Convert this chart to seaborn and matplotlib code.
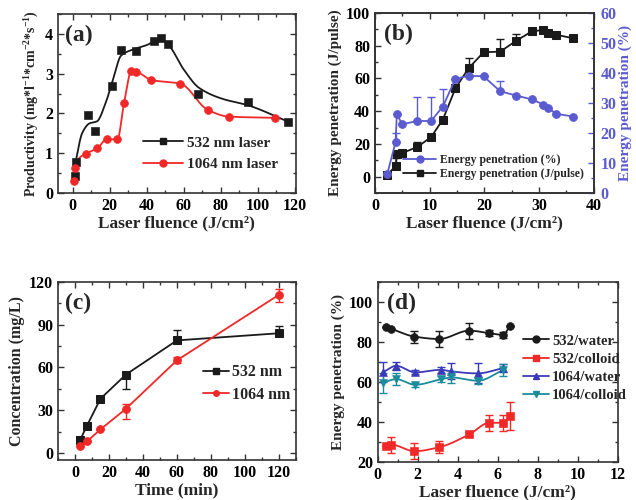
import numpy as np
import pandas as pd
import matplotlib
matplotlib.use("Agg")
import matplotlib.pyplot as plt
from matplotlib.lines import Line2D
from matplotlib.ticker import MultipleLocator
import seaborn as sns

# ---- (a) productivity vs laser fluence ----
a532_x = [1.0, 1.5, 8.3, 12.0, 21.4, 26.2, 34.4, 44.0, 47.6, 51.2, 67.7, 94.7, 116.0]
a532_y = [0.42, 0.78, 1.95, 1.56, 2.7, 3.6, 3.56, 3.81, 3.9, 3.75, 2.48, 2.3, 1.79]
# smooth fit line drawn through the 532 nm data
fit532_x = [1.5, 5, 9, 13, 18, 22, 26, 32, 40, 47, 52, 60, 68, 80, 95, 116]
fit532_y = [0.78, 1.5, 1.75, 1.8, 2.3, 2.9, 3.45, 3.6, 3.72, 3.87, 3.7, 3.1, 2.65, 2.38, 2.2, 1.8]
a1064_x = [0.8, 1.0, 7.2, 13.2, 18.3, 24.1, 27.7, 31.7, 34.4, 42.5, 58.1, 72.9, 84.3, 109.1]
a1064_y = [0.3, 0.62, 0.99, 1.12, 1.35, 1.35, 2.27, 3.07, 3.05, 2.84, 2.75, 2.09, 1.92, 1.89]

# ---- (b) energy penetration vs fluence ----
b_x = [2.25, 3.76, 4.0, 5.0, 7.7, 10.26, 12.4, 14.7, 17.1, 19.85, 22.9, 25.8,
       28.65, 30.8, 31.6, 33.1, 36.2]
b_jp = [1.2, 6.4, 13.9, 14.5, 18.0, 24.2, 34.8, 53.9, 66.2, 76.0, 76.4, 83.0,
        88.7, 89.7, 87.7, 86.7, 84.6]
b_jp_err = [0, 5, 0, 0, 3, 0, 0, 0, 6, 0, 8, 4, 0, 0, 0, 0, 0]
b_pct = [6.4, 16.9, 26.2, 22.9, 24.0, 24.0, 28.8, 38.0, 39.1, 38.9, 33.9, 32.5,
         31.2, 29.5, 28.4, 26.4, 25.5]
b_pct_err = [0, 3, 0, 0, 8, 8, 6, 0, 0, 0, 3.5, 0, 0, 0, 0, 0, 0]

# ---- (c) concentration vs time ----
c_t = [3, 7, 15, 30, 60, 120]
c532 = [9, 19, 38, 55, 79, 84]
c532_lo = [0, 0, 0, 10, 0, 0]
c532_hi = [0, 0, 0, 1, 7, 5]
c1064 = [5, 8, 16.5, 31, 65, 111]
c1064_lo = [0, 0, 0, 7, 2, 5]
c1064_hi = [0, 0, 0, 3, 2, 4]

# ---- (d) energy penetration, water vs colloid ----
d532_x = [0.42, 0.67, 1.83, 3.08, 4.58, 5.58, 6.25, 6.62]
d532w = [87.4, 86.6, 82.7, 81.5, 85.7, 84.4, 83.6, 87.9]
d532w_err = [0, 0, 3, 4, 4, 1.5, 1.5, 0]
d532c = [28.2, 28.7, 25.4, 27.4, 33.8, 39.6, 39.6, 43.0]
d532c_err = [0, 4, 4, 3, 1, 4, 4, 7]
d1064_x = [0.25, 0.92, 1.87, 3.17, 3.67, 5.0, 6.28]
d1064w = [64.8, 68.1, 64.8, 66.1, 65.3, 64.3, 67.0]
d1064w_err = [5, 2, 1, 1.5, 4, 5, 2]
d1064c = [59.7, 61.4, 58.6, 61.4, 62.3, 60.6, 66.0]
d1064c_err = [5, 3, 1, 1.5, 3, 1.5, 3]

BLACK = "#1a1a1a"
RED = "#f02828"
BLUE_B = "#5b5bd0"
BLUE_D = "#3a3ab8"
TEAL = "#1b8c9c"


def pchip(x, y, n=300):
    x = np.asarray(x, float)
    y = np.asarray(y, float)
    h = np.diff(x)
    d = np.diff(y) / h
    m = np.zeros_like(y)
    for i in range(1, len(x) - 1):
        if d[i - 1] * d[i] > 0:
            w1 = 2 * h[i] + h[i - 1]
            w2 = h[i] + 2 * h[i - 1]
            m[i] = (w1 + w2) / (w1 / d[i - 1] + w2 / d[i])
    m[0], m[-1] = d[0], d[-1]
    xs = np.linspace(x[0], x[-1], n)
    k = np.clip(np.searchsorted(x, xs) - 1, 0, len(h) - 1)
    t = (xs - x[k]) / h[k]
    ys = ((2 * t**3 - 3 * t**2 + 1) * y[k] + (t**3 - 2 * t**2 + t) * h[k] * m[k]
          + (-2 * t**3 + 3 * t**2) * y[k + 1] + (t**3 - t**2) * h[k] * m[k + 1])
    return xs, ys


def style_axes(ax, xmaj, xmin, ymaj, ymin, right=True):
    ax.xaxis.set_major_locator(MultipleLocator(xmaj))
    ax.xaxis.set_minor_locator(MultipleLocator(xmin))
    ax.yaxis.set_major_locator(MultipleLocator(ymaj))
    ax.yaxis.set_minor_locator(MultipleLocator(ymin))
    ax.tick_params(which="both", direction="in", top=True, right=right,
                   colors="#333333", labelcolor="black", labelsize=11.5, width=1)
    ax.tick_params(which="major", length=4)
    ax.tick_params(which="minor", length=2)
    for s in ax.spines.values():
        s.set_color("#333333")
        s.set_linewidth(1.2)


def lh(color, marker, ms=5):
    return Line2D([], [], color=color, marker=marker, markersize=ms, lw=1.3)


sns.set_style("ticks")
plt.rcParams["font.family"] = ["Liberation Serif", "DejaVu Serif"]
plt.rcParams["font.weight"] = "bold"
plt.rcParams["axes.labelweight"] = "bold"
plt.rcParams["mathtext.fontset"] = "custom"
plt.rcParams["mathtext.rm"] = "Liberation Serif:bold"
plt.rcParams["mathtext.default"] = "regular"

fig = plt.figure(figsize=(6.36, 5.0), dpi=100)
ax_a = fig.add_axes([0.0912, 0.614, 0.374, 0.358])
ax_b = fig.add_axes([0.5896, 0.614, 0.344, 0.36])
ax_c = fig.add_axes([0.0912, 0.08, 0.374, 0.356])
ax_d = fig.add_axes([0.594, 0.076, 0.377, 0.36])

# ---- (a) ----
fx, fy = pchip(fit532_x, fit532_y)
ax_a.plot(fx, fy, color=BLACK, lw=1.3)
rx, ry = pchip(a1064_x, a1064_y)
ax_a.plot(rx, ry, color=RED, lw=1.3)
sns.scatterplot(x=a532_x, y=a532_y, ax=ax_a, marker="s", color=BLACK, s=32,
                edgecolor=BLACK, zorder=3)
sns.scatterplot(x=a1064_x, y=a1064_y, ax=ax_a, marker="o", color=RED, s=32,
                edgecolor=RED, zorder=3)
ax_a.set_xlim(-8, 120.5)
ax_a.set_ylim(0, 4.5)
style_axes(ax_a, 20, 10, 1, 0.5)
ax_a.set_xlabel("Laser fluence (J/cm²)", fontsize=12.5, labelpad=1)
ax_a.set_ylabel("Productivity (mg*l$^{-1}$*cm$^{-2}$*s$^{-1}$)", fontsize=10, labelpad=3)
ax_a.text(0.03, 0.94, "(a)", transform=ax_a.transAxes, fontsize=17,
          fontweight="bold", va="top")
ax_a.legend([lh(BLACK, "s", 5), lh(RED, "o", 5)], ["532 nm laser", "1064 nm laser"],
            loc="center left", bbox_to_anchor=(0.3, 0.22), frameon=False,
            fontsize=11, handlelength=2.6, labelspacing=0.5, handletextpad=0.3)

# ---- (b) ----
dfb = pd.DataFrame({"x": b_x, "jp": b_jp, "pct": b_pct})
ax_b2 = ax_b.twinx()
ax_b.errorbar(b_x, b_jp, yerr=[np.zeros(len(b_x)), b_jp_err], fmt="none",
              ecolor=BLACK, elinewidth=1, capsize=3, zorder=2)
sns.lineplot(data=dfb, x="x", y="jp", ax=ax_b, color=BLACK, marker="s",
             markersize=5.5, markeredgecolor=BLACK, lw=1.3, sort=False, zorder=3)
ax_b2.errorbar(b_x, b_pct, yerr=[np.zeros(len(b_x)), b_pct_err], fmt="none",
               ecolor=BLUE_B, elinewidth=1, capsize=3, zorder=2)
sns.lineplot(data=dfb, x="x", y="pct", ax=ax_b2, color=BLUE_B, marker="o",
             markersize=5.5, markeredgecolor=BLUE_B, lw=1.3, sort=False, zorder=3)
ax_b.set_xlim(0, 40)
ax_b.set_ylim(-10, 100)
ax_b2.set_ylim(0, 60)
style_axes(ax_b, 10, 5, 20, 10, right=False)
ax_b2.yaxis.set_major_locator(MultipleLocator(10))
ax_b2.yaxis.set_minor_locator(MultipleLocator(5))
ax_b2.tick_params(which="both", direction="in", colors=BLUE_B, labelsize=11.5,
                  width=1, pad=5)
ax_b2.tick_params(which="major", length=4)
ax_b2.tick_params(which="minor", length=2)
for s in ax_b2.spines.values():
    s.set_color("#333333")
    s.set_linewidth(1.2)
ax_b.set_xlabel("Laser fluence (J/cm²)", fontsize=12.5, labelpad=1)
ax_b.set_ylabel("Energy penetration (J/pulse)", fontsize=11, labelpad=3)
ax_b2.set_ylabel("Energy penetration (%)", fontsize=11, color=BLUE_B, labelpad=1)
ax_b.text(0.04, 0.94, "(b)", transform=ax_b.transAxes, fontsize=17,
          fontweight="bold", va="top")
ax_b.legend([lh(BLUE_B, "o", 5), lh(BLACK, "s", 5)],
            ["Energy penetration (%)", "Energy penetration (J/pulse)"],
            loc="center left", bbox_to_anchor=(0.08, 0.145), frameon=False,
            fontsize=8.5, handlelength=2.8, labelspacing=0.2, handletextpad=0.3)

# ---- (c) ----
ax_c.errorbar(c_t, c532, yerr=[c532_lo, c532_hi], fmt="none", ecolor=BLACK,
              elinewidth=1, capsize=3, zorder=2)
ax_c.errorbar(c_t, c1064, yerr=[c1064_lo, c1064_hi], fmt="none", ecolor=RED,
              elinewidth=1, capsize=3, zorder=2)
sns.lineplot(x=c_t, y=c532, ax=ax_c, color=BLACK, marker="s", markersize=5.5,
             markeredgecolor=BLACK, lw=1.3, zorder=3)
sns.lineplot(x=c_t, y=c1064, ax=ax_c, color=RED, marker="o", markersize=5.5,
             markeredgecolor=RED, lw=1.3, zorder=3)
ax_c.set_xlim(-10, 130)
ax_c.set_ylim(-5, 120)
style_axes(ax_c, 20, 10, 30, 15)
ax_c.set_xlabel("Time (min)", fontsize=12.5, labelpad=1)
ax_c.set_ylabel("Concentration (mg/L)", fontsize=11.5, labelpad=3)
ax_c.text(0.03, 0.94, "(c)", transform=ax_c.transAxes, fontsize=17,
          fontweight="bold", va="top")
ax_c.legend([lh(BLACK, "s", 4), lh(RED, "o", 4)], ["532 nm", "1064 nm"],
            loc="center left", bbox_to_anchor=(0.55, 0.43), frameon=False,
            fontsize=11.5, handlelength=1.6, labelspacing=0.4, handletextpad=0.2)

# ---- (d) ----
series_d = [
    (d532_x, d532w, d532w_err, BLACK, "o", "532/water"),
    (d532_x, d532c, d532c_err, RED, "s", "532/colloid"),
    (d1064_x, d1064w, d1064w_err, BLUE_D, "^", "1064/water"),
    (d1064_x, d1064c, d1064c_err, TEAL, "v", "1064/colloid"),
]
handles = []
for x, y, e, col, mk, lab in series_d:
    sx, sy = pchip(x, y)
    ax_d.plot(sx, sy, color=col, lw=1.3)
    ax_d.errorbar(x, y, yerr=e, fmt="none", ecolor=col, elinewidth=1,
                  capsize=3, zorder=2)
    sns.scatterplot(x=x, y=y, ax=ax_d, marker=mk, color=col, s=32,
                    edgecolor=col, zorder=3)
    handles.append(lh(col, mk, 5))
ax_d.set_xlim(0, 12)
ax_d.set_ylim(20, 110)
style_axes(ax_d, 2, 1, 20, 10)
ax_d.set_xlabel("Laser fluence (J/cm²)", fontsize=12.5, labelpad=1)
ax_d.set_ylabel("Energy penetration (%)", fontsize=11, labelpad=3)
ax_d.text(0.04, 0.94, "(d)", transform=ax_d.transAxes, fontsize=17,
          fontweight="bold", va="top")
ax_d.legend(handles, [s[5] for s in series_d], loc="center left",
            bbox_to_anchor=(0.55, 0.52), frameon=False, fontsize=10.5,
            handlelength=1.8, labelspacing=0.35, handletextpad=0.2)

fig.savefig("out.png", dpi=100)
